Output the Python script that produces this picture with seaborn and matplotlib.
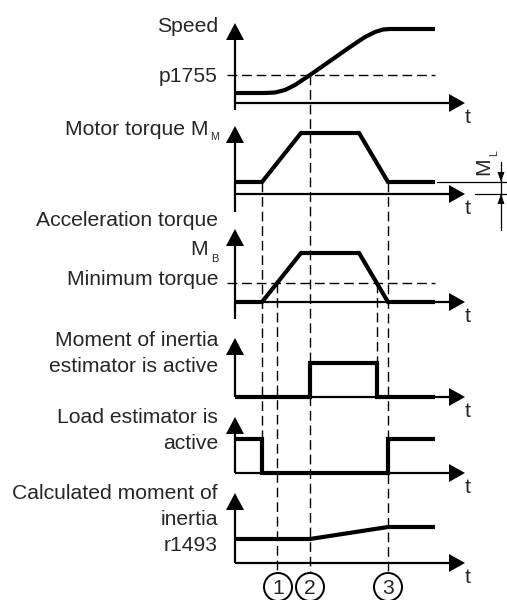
import matplotlib
matplotlib.use("Agg")
import matplotlib.pyplot as plt
import seaborn as sns
import pandas as pd
from matplotlib.patches import Circle, Polygon

sns.set_theme(style="white")
plt.rcParams['font.family'] = ['Liberation Sans', 'DejaVu Sans']

# ---- signal data (time in drawing units from the y axis, levels above each time axis)
speed_t = [0, 30, 40, 50, 60, 75, 95, 115, 130, 140, 148, 155, 200]
speed_v = [10, 10, 10.5, 13, 18, 28, 42, 56, 66, 71, 73.5, 74, 74]
p1755 = 28

torque_t = [0, 27, 66, 124, 153, 200]
motor_torque = [12, 12, 61, 61, 12, 12]
accel_torque = [0, 0, 49, 49, 0, 0]
min_torque = 19

inertia_est_t = [0, 75, 75, 142, 142, 200]
inertia_est = [0, 0, 34, 34, 0, 0]

load_est_t = [0, 27, 27, 153, 153, 200]
load_est = [34, 34, 0, 0, 34, 34]

calc_t = [0, 75, 153, 200]
calc_inertia = [24, 24, 36, 36]

# event markers (1), (2), (3)
event_t = [42, 75, 153]
event_labels = ["1", "2", "3"]

# ---- layout of the stacked time axes
baselines = [103, 194, 302, 397, 473, 563]
tops = [23, 126, 229, 338, 417, 493]
below = [7, 18, 17, 0, 0, 0]
t_end = 230

FS = 15.2
fig = plt.figure(figsize=(5.07, 6.0), dpi=100)
ax = fig.add_axes([0, 0, 1, 1])
ax.set_xlim(-235, 272)
ax.set_ylim(600, 0)
ax.axis("off")

# time axes with arrow heads
for b, top, ext in zip(baselines, tops, below):
    ax.plot([0, 0], [b + ext, top + 15], color="black", lw=1.6, solid_capstyle="butt")
    ax.add_patch(Polygon([[0, top], [-9, top + 17], [9, top + 17]], closed=True,
                         color="black", lw=0))
    ax.plot([0, t_end - 15], [b, b], color="black", lw=1.6, solid_capstyle="butt")
    ax.add_patch(Polygon([[t_end, b], [t_end - 16, b - 9], [t_end - 16, b + 9]],
                         closed=True, color="black", lw=0))
    ax.text(t_end + 3, b + 20, "t", fontsize=FS, ha="center", va="baseline")


def signal(t, v, panel):
    df = pd.DataFrame({"t": t, "y": [baselines[panel] - x for x in v]})
    sns.lineplot(data=df, x="t", y="y", ax=ax, color="black", lw=3.0,
                 sort=False, estimator=None, legend=False)


signal(speed_t, speed_v, 0)
signal(torque_t, motor_torque, 1)
signal(torque_t, accel_torque, 2)
signal(inertia_est_t, inertia_est, 3)
signal(load_est_t, load_est, 4)
signal(calc_t, calc_inertia, 5)
for line in ax.lines:
    line.set_solid_joinstyle("miter")
    line.set_solid_capstyle("butt")

# dashed threshold lines
dash = (0, (7, 3.5))
ax.plot([-8, 200], [baselines[0] - p1755] * 2, color="black", lw=1.0, ls=dash)
ax.plot([-8, 200], [baselines[2] - min_torque] * 2, color="black", lw=1.0, ls=dash)

# dashed vertical guides
y_circle_top = 573
guides = [
    (torque_t[1], baselines[1] - motor_torque[1], baselines[4] - load_est[0]),
    (event_t[0], baselines[2] - min_torque, y_circle_top),
    (event_t[1], baselines[0] - p1755, y_circle_top),
    (inertia_est_t[3], baselines[2] - min_torque, baselines[3] - inertia_est[2]),
    (event_t[2], baselines[1] - motor_torque[-1], y_circle_top),
]
for x, y0, y1 in guides:
    ax.plot([x, x], [y0, y1], color="black", lw=1.0, ls=dash)

# numbered events
for x, lab in zip(event_t, event_labels):
    cx = x + 1 if lab == "1" else x
    ax.add_patch(Circle((cx, 587), 14, fill=False, edgecolor="black", lw=1.4))
    ax.text(cx, 594.5, lab, fontsize=FS, ha="center", va="baseline")

# load torque M_L dimension
ax.plot([202, 272], [baselines[1] - motor_torque[-1]] * 2, color="black", lw=0.9)
ax.plot([240, 272], [baselines[1]] * 2, color="black", lw=0.9)
ax.plot([266, 266], [162, 230], color="black", lw=0.9)
yl = baselines[1] - motor_torque[-1]
ax.add_patch(Polygon([[266, yl], [262.5, yl - 10], [269.5, yl - 10]], color="black", lw=0))
ax.add_patch(Polygon([[266, baselines[1]], [262.5, baselines[1] + 10],
                      [269.5, baselines[1] + 10]], color="black", lw=0))
ax.text(249, 166, "M", fontsize=FS, rotation=90, ha="center", va="center")
ax.text(259, 153, "L", fontsize=7.5, rotation=90, ha="center", va="center")

# axis titles
XR = -17
labels = [
    ("Speed", 32), ("p1755", 82),
    ("Acceleration torque", 226), ("Minimum torque", 285),
    ("Moment of inertia", 346), ("estimator is active", 372),
    ("Load estimator is", 423), ("active", 449),
    ("Calculated moment of", 499), ("inertia", 525), ("r1493", 551),
]
for s, y in labels:
    ax.text(XR, y, s, fontsize=FS, ha="right", va="baseline")

ax.text(-27, 135, "Motor torque M", fontsize=FS, ha="right", va="baseline")
ax.text(-21, 140, "M", fontsize=7.5, ha="center", va="baseline")
ax.text(-27, 255, "M", fontsize=FS, ha="right", va="baseline")
ax.text(-20, 262, "B", fontsize=8, ha="center", va="baseline")

fig.savefig("out.png", dpi=100, facecolor="white")
